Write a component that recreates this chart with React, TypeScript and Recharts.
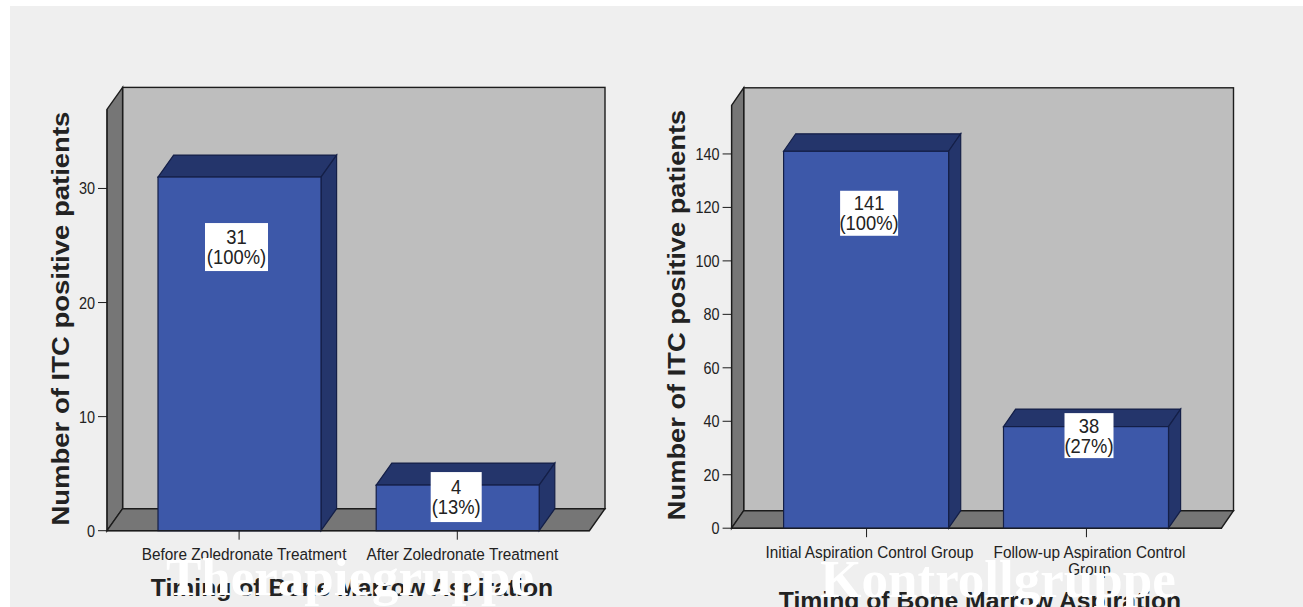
import { BarChart, Bar, XAxis, YAxis, Label, LabelList } from 'recharts';

const therapyCategories = ['Before Zoledronate Treatment', 'After Zoledronate Treatment'];
const therapyCounts = [31, 4];
const therapyPercents = [100, 13];
const therapyTicks = [0, 10, 20, 30];

const controlCategories = ['Initial Aspiration Control Group', 'Follow-up Aspiration Control Group'];
const controlCounts = [141, 38];
const controlPercents = [100, 27];
const controlTicks = [0, 20, 40, 60, 80, 100, 120, 140];

const WALL = '#bebebe';
const FLOOR = '#767676';
const BAR_FRONT = '#3d58a9';
const BAR_SHADE = '#24356b';
const LINE = '#1c1c1c';
const FONT = '"Liberation Sans", Arial, sans-serif';
const NARROW = 0.93;
const MAX_LINE_CHARS = 32;

interface Frame {
  left: number;
  top: number;
  width: number;
  height: number;
  plotLeft: number;
  plotTop: number;
  plotRight: number;
  plotBottom: number;
  depthX: number;
  depthY: number;
}

interface PanelProps {
  frame: Frame;
  categories: string[];
  counts: number[];
  percents: number[];
  ticks: number[];
  yMax: number;
  barSize: number;
  bandPadding: number;
  tickShift: number;
  tickBaseline: number;
  labelBoxes: { dx: number; dy: number; w: number; h: number }[];
  yTitleX: number;
  yTitleY: number;
  yTitleScale: number;
  xTitleX: number;
  xTitleY: number;
}

// Horizontally condensed text, anchored at (x, y)
function Squeezed({ x, y, scale = NARROW, size, weight, anchor = 'middle', children }: any) {
  return (
    <text
      transform={`translate(${x},${y}) scale(${scale},1)`}
      textAnchor={anchor}
      fontFamily={FONT}
      fontSize={size}
      fontWeight={weight}
      fill="#222"
    >
      {children}
    </text>
  );
}

function wrapCategory(text: string) {
  if (text.length <= MAX_LINE_CHARS) return [text];
  const cut = text.lastIndexOf(' ');
  return [text.slice(0, cut), text.slice(cut + 1)];
}

// Back wall, side wall and floor of the chart box
function Box({ frame }: { frame: Frame }) {
  const { plotLeft: l, plotTop: t, plotRight: r, plotBottom: b, depthX: dx, depthY: dy } = frame;
  const x0 = l - frame.left;
  const x1 = r - frame.left;
  const y0 = t - frame.top;
  const y1 = b - frame.top;
  return (
    <g stroke={LINE} strokeWidth={1.4}>
      <rect x={x0 + dx} y={y0 - dy} width={x1 - x0} height={y1 - y0} fill={WALL} />
      <polygon points={`${x0},${y0} ${x0 + dx},${y0 - dy} ${x0 + dx},${y1 - dy} ${x0},${y1}`} fill={FLOOR} />
      <polygon points={`${x0},${y1} ${x0 + dx},${y1 - dy} ${x1 + dx},${y1 - dy} ${x1},${y1}`} fill={FLOOR} />
    </g>
  );
}

function Panel(props: PanelProps) {
  const { frame, categories, counts, percents, ticks, yMax, barSize, bandPadding, labelBoxes } = props;
  const data = categories.map((name, i) => ({ name, count: counts[i] }));
  const yAxisWidth = 50;
  const xAxisHeight = 40;
  const margin = {
    top: frame.plotTop - frame.top,
    left: frame.plotLeft - frame.left - yAxisWidth,
    right: frame.left + frame.width - frame.plotRight,
    bottom: frame.top + frame.height - frame.plotBottom - xAxisHeight,
  };

  const renderBar = ({ x, y, width, height }: any) => {
    const { depthX: dx, depthY: dy } = frame;
    return (
      <g stroke="#141f47" strokeWidth={1.2}>
        <polygon
          points={`${x},${y} ${x + dx},${y - dy} ${x + width + dx},${y - dy} ${x + width},${y}`}
          fill={BAR_SHADE}
        />
        <polygon
          points={`${x + width},${y} ${x + width + dx},${y - dy} ${x + width + dx},${y + height - dy} ${x + width},${y + height}`}
          fill={BAR_SHADE}
        />
        <rect x={x} y={y} width={width} height={height} fill={BAR_FRONT} />
      </g>
    );
  };

  const renderValueLabel = ({ x, y, width, value, index }: any) => {
    const box = labelBoxes[index];
    const cx = x + width / 2 + box.dx;
    const cy = y + box.dy;
    return (
      <g>
        <rect x={cx - box.w / 2} y={cy - box.h / 2} width={box.w} height={box.h} fill="#fff" />
        <Squeezed x={cx} y={cy - 3} size={20} scale={0.92}>{value}</Squeezed>
        <Squeezed x={cx} y={cy + 17} size={20} scale={0.92}>{`(${percents[index]}%)`}</Squeezed>
      </g>
    );
  };

  const renderXTick = ({ x, payload }: any) => (
    <g>
      {wrapCategory(payload.value).map((line, i) => (
        <Squeezed key={line} x={x + props.tickShift} y={props.tickBaseline - frame.top + i * 17} size={16.5}>
          {line}
        </Squeezed>
      ))}
    </g>
  );

  const renderYTick = ({ x, y, payload }: any) => (
    <Squeezed x={x} y={y + 6} size={17} scale={0.85} anchor="end">
      {payload.value}
    </Squeezed>
  );

  return (
    <div style={{ position: 'absolute', left: frame.left, top: frame.top }}>
      <BarChart width={frame.width} height={frame.height} data={data} margin={margin}>
        <Box frame={frame} />
        <XAxis
          dataKey="name"
          interval={0}
          height={xAxisHeight}
          padding={{ left: bandPadding, right: bandPadding }}
          stroke={LINE}
          tickSize={9}
          tick={renderXTick}
        >
          <Label
            content={() => (
              <Squeezed x={props.xTitleX - frame.left} y={props.xTitleY - frame.top} size={24} weight="bold" scale={1.03}>
                Timing of Bone Marrow Aspiration
              </Squeezed>
            )}
          />
        </XAxis>
        <YAxis
          width={yAxisWidth}
          domain={[0, yMax]}
          ticks={ticks}
          stroke={LINE}
          tickSize={9}
          tickMargin={3}
          tick={renderYTick}
        >
          <Label
            content={() => (
              <text
                transform={`translate(${props.yTitleX - frame.left},${props.yTitleY - frame.top}) rotate(-90) scale(${props.yTitleScale},1)`}
                textAnchor="middle"
                fontFamily={FONT}
                fontSize={24}
                fontWeight="bold"
                fill="#222"
              >
                Number of ITC positive patients
              </text>
            )}
          />
        </YAxis>
        <Bar dataKey="count" barSize={barSize} shape={renderBar} isAnimationActive={false}>
          <LabelList dataKey="count" content={renderValueLabel} />
        </Bar>
      </BarChart>
    </div>
  );
}

function GroupName({ x, y, children }: any) {
  return (
    <div
      style={{
        position: 'absolute',
        left: x,
        top: y,
        transform: 'translateX(-50%)',
        fontFamily: '"Liberation Serif", serif',
        fontWeight: 'bold',
        fontSize: 53,
        lineHeight: '60px',
        color: '#fff',
        whiteSpace: 'nowrap',
      }}
    >
      {children}
    </div>
  );
}

export default function App() {
  return (
    <div style={{ position: 'absolute', left: 0, top: 0, width: 1303, height: 607, overflow: 'hidden', background: '#fff' }}>
      <div style={{ position: 'absolute', left: 10, top: 6, width: 1293, height: 601, background: '#efefef' }} />
      <Panel
        frame={{ left: 10, top: 6, width: 640, height: 601, plotLeft: 107, plotTop: 109.4, plotRight: 589.4, plotBottom: 530.7, depthX: 15.6, depthY: 22 }}
        categories={therapyCategories}
        counts={therapyCounts}
        percents={therapyPercents}
        ticks={therapyTicks}
        yMax={36.93}
        barSize={163}
        bandPadding={23}
        tickShift={5}
        tickBaseline={560}
        labelBoxes={[
          { dx: -3, dy: 70, w: 63, h: 48 },
          { dx: -1.5, dy: 12, w: 51, h: 50 },
        ]}
        yTitleX={69}
        yTitleY={318.6}
        yTitleScale={1.146}
        xTitleX={352}
        xTitleY={595.7}
      />
      <Panel
        frame={{ left: 650, top: 6, width: 653, height: 601, plotLeft: 731.6, plotTop: 105.3, plotRight: 1221.4, plotBottom: 528.2, depthX: 12.1, depthY: 17.5 }}
        categories={controlCategories}
        counts={controlCounts}
        percents={controlPercents}
        ticks={controlTicks}
        yMax={158.2}
        barSize={165}
        bandPadding={25}
        tickShift={3}
        tickBaseline={558}
        labelBoxes={[
          { dx: 3, dy: 62, w: 58, h: 45 },
          { dx: 3, dy: 9, w: 49, h: 45 },
        ]}
        yTitleX={685}
        yTitleY={315}
        yTitleScale={1.136}
        xTitleX={980}
        xTitleY={608.7}
      />
      <GroupName x={350} y={547}>Therapiegruppe</GroupName>
      <GroupName x={998} y={549}>Kontrollgruppe</GroupName>
    </div>
  );
}
